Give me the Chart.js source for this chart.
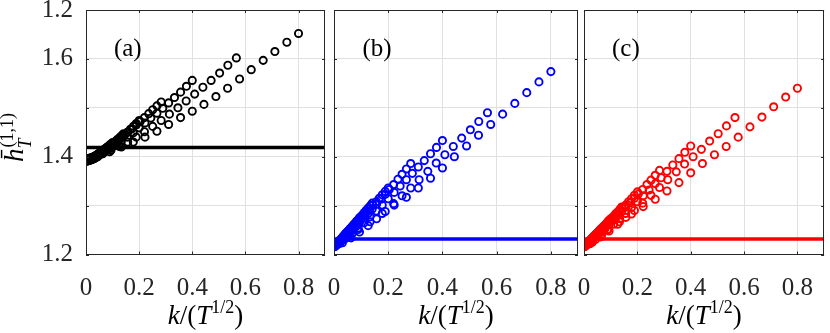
<!DOCTYPE html>
<html>
<head>
<meta charset="utf-8">
<script src="https://cdn.jsdelivr.net/npm/chart.js@4.4.0/dist/chart.umd.min.js"></script>
<style>
  body { margin: 0; background: #fff; width: 830px; height: 333px; position: relative; overflow: hidden; }
  canvas { position: absolute; top: 0; }
</style>
</head>
<body>
<canvas id="panelA" style="left:0px" width="331" height="333"></canvas>
<canvas id="panelB" style="left:316px" width="268" height="333"></canvas>
<canvas id="panelC" style="left:566px" width="264" height="333"></canvas>
<script>
// k / T^(1/2) for each T (same in all three panels)
const x1 = [0.044,0.089,0.133,0.178,0.222,0.267,0.311,0.356,0.400,0.444,0.489,0.533,0.578,0.622,0.667,0.711,0.756,0.800];
const x2 = [0.031,0.063,0.094,0.126,0.157,0.189,0.220,0.251,0.283,0.314,0.346,0.377,0.409,0.440,0.471,0.503,0.534,0.566];
const x3 = [0.022,0.044,0.067,0.089,0.111,0.133,0.156,0.178,0.200,0.222,0.244,0.267,0.289,0.311,0.333,0.356,0.378,0.400];
const x4 = [0.016,0.031,0.047,0.063,0.079,0.094,0.110,0.126,0.141,0.157,0.173,0.189,0.204,0.220,0.236,0.251,0.267,0.283];
const x5 = [0.011,0.022,0.033,0.044,0.056,0.067,0.078,0.089,0.100,0.111,0.122,0.133,0.144,0.156,0.167,0.178,0.189,0.200];
const x6 = [0.008,0.016,0.024,0.031,0.039,0.047,0.055,0.063,0.071,0.079,0.086,0.094,0.102,0.110,0.118,0.126,0.134,0.141];
const x7 = [0.006,0.011,0.017,0.022,0.028,0.033,0.039,0.044,0.050,0.056,0.061,0.067,0.072,0.078,0.083,0.089,0.094,0.100];
const x8 = [0.004,0.008,0.012,0.016,0.020,0.024,0.027,0.031,0.035,0.039,0.043,0.047,0.051,0.055,0.059,0.063,0.067,0.071];
const x9 = [0.003,0.006,0.008,0.011,0.014,0.017,0.019,0.022,0.025,0.028,0.031,0.033,0.036,0.039,0.042,0.044,0.047,0.050];
const x10 = [0.002,0.004,0.006,0.008,0.010,0.012,0.014,0.016,0.018,0.020,0.022,0.024,0.026,0.027,0.029,0.031,0.033,0.035];

// panel (a)
const a1 = [1.400,1.410,1.420,1.430,1.440,1.452,1.466,1.480,1.493,1.507,1.523,1.540,1.559,1.578,1.597,1.615,1.634,1.652];
const a2 = [1.400,1.406,1.413,1.421,1.430,1.440,1.451,1.462,1.474,1.487,1.500,1.514,1.528,1.542,1.556,1.571,1.587,1.602];
const a3 = [1.398,1.403,1.409,1.416,1.423,1.431,1.440,1.449,1.459,1.469,1.479,1.489,1.499,1.510,1.521,1.532,1.544,1.556];
const a4 = [1.397,1.401,1.406,1.411,1.417,1.423,1.429,1.436,1.443,1.450,1.457,1.465,1.472,1.480,1.488,1.496,1.504,1.512];
const a5 = [1.395,1.397,1.399,1.402,1.405,1.409,1.413,1.418,1.423,1.428,1.433,1.439,1.444,1.450,1.456,1.462,1.468,1.474];
const a6 = [1.395,1.396,1.398,1.400,1.402,1.404,1.407,1.410,1.413,1.416,1.420,1.423,1.427,1.431,1.435,1.439,1.443,1.447];
const a7 = [1.395,1.396,1.397,1.398,1.399,1.401,1.403,1.405,1.407,1.409,1.411,1.414,1.416,1.419,1.421,1.424,1.426,1.429];
const a8 = [1.395,1.395,1.396,1.396,1.397,1.398,1.399,1.400,1.401,1.403,1.404,1.405,1.407,1.408,1.410,1.412,1.414,1.416];
const a9 = [1.394,1.394,1.395,1.395,1.395,1.396,1.396,1.397,1.398,1.398,1.399,1.400,1.401,1.402,1.403,1.404,1.405,1.407];
const a10 = [1.391,1.391,1.392,1.392,1.392,1.393,1.393,1.393,1.394,1.394,1.394,1.395,1.395,1.396,1.396,1.397,1.397,1.398];
const lineA = 1.419;

// panel (b)
const b1 = [1.236,1.251,1.267,1.284,1.301,1.317,1.336,1.356,1.377,1.400,1.422,1.444,1.466,1.487,1.509,1.531,1.553,1.574];
const b2 = [1.224,1.234,1.246,1.259,1.273,1.288,1.304,1.320,1.336,1.353,1.370,1.387,1.404,1.421,1.438,1.455,1.472,1.490];
const b3 = [1.223,1.233,1.243,1.254,1.265,1.277,1.289,1.301,1.314,1.327,1.340,1.353,1.366,1.379,1.392,1.406,1.419,1.433];
const b4 = [1.222,1.230,1.238,1.247,1.256,1.265,1.274,1.284,1.293,1.303,1.313,1.323,1.333,1.343,1.354,1.364,1.375,1.386];
const b5 = [1.221,1.227,1.233,1.239,1.246,1.252,1.259,1.266,1.273,1.280,1.287,1.294,1.301,1.308,1.315,1.322,1.329,1.336];
const b6 = [1.220,1.225,1.229,1.234,1.239,1.244,1.249,1.254,1.259,1.264,1.269,1.274,1.279,1.285,1.290,1.295,1.300,1.305];
const b7 = [1.219,1.222,1.226,1.229,1.233,1.236,1.240,1.243,1.247,1.250,1.254,1.257,1.261,1.264,1.268,1.271,1.275,1.278];
const b8 = [1.218,1.220,1.223,1.225,1.228,1.230,1.232,1.235,1.237,1.240,1.242,1.245,1.247,1.249,1.252,1.254,1.257,1.259];
const b9 = [1.218,1.219,1.221,1.223,1.224,1.226,1.228,1.229,1.231,1.233,1.234,1.236,1.238,1.239,1.241,1.243,1.244,1.246];
const b10 = [1.216,1.217,1.218,1.219,1.220,1.221,1.222,1.223,1.224,1.225,1.226,1.227,1.228,1.229,1.230,1.231,1.232,1.234];
const lineB = 1.2316;

// panel (c)
const c1 = [1.236,1.251,1.267,1.283,1.298,1.313,1.330,1.347,1.367,1.386,1.404,1.421,1.440,1.461,1.481,1.502,1.522,1.540];
const c2 = [1.225,1.236,1.248,1.262,1.276,1.290,1.305,1.321,1.337,1.353,1.369,1.385,1.400,1.415,1.432,1.447,1.463,1.480];
const c3 = [1.222,1.231,1.241,1.251,1.262,1.273,1.284,1.296,1.308,1.320,1.332,1.345,1.357,1.370,1.383,1.396,1.409,1.422];
const c4 = [1.222,1.229,1.237,1.245,1.253,1.261,1.270,1.279,1.288,1.297,1.306,1.315,1.324,1.333,1.343,1.352,1.362,1.372];
const c5 = [1.221,1.226,1.232,1.238,1.244,1.250,1.256,1.263,1.269,1.275,1.282,1.288,1.295,1.301,1.308,1.314,1.321,1.328];
const c6 = [1.220,1.224,1.228,1.233,1.237,1.242,1.246,1.251,1.255,1.260,1.264,1.269,1.273,1.278,1.283,1.287,1.292,1.297];
const c7 = [1.219,1.222,1.225,1.228,1.232,1.235,1.238,1.241,1.244,1.248,1.251,1.254,1.257,1.260,1.263,1.267,1.270,1.273];
const c8 = [1.218,1.220,1.222,1.225,1.227,1.229,1.231,1.234,1.236,1.238,1.240,1.243,1.245,1.247,1.249,1.252,1.254,1.256];
const c9 = [1.218,1.219,1.221,1.222,1.224,1.225,1.227,1.228,1.230,1.232,1.233,1.235,1.236,1.238,1.239,1.241,1.242,1.244];
const c10 = [1.216,1.217,1.218,1.219,1.220,1.221,1.222,1.223,1.224,1.225,1.226,1.227,1.228,1.229,1.230,1.231,1.232,1.233];
const lineC = 1.2316;

const xTickLabels = ['0', '0.2', '0.4', '0.6', '0.8'];
const yTickLabels = ['1.2', '', '1.4', '', '1.6', '1.2'];
const panelLetters = ['(a)', '(b)', '(c)'];

const xFams = [x1, x2, x3, x4, x5, x6, x7, x8, x9, x10];
const FONT = "'Liberation Serif', 'Times New Roman', serif";

function drawParts(ctx, parts, cx, base) {
    // parts: [text, font, dy]
    let w = 0;
    parts.forEach(p => { ctx.font = p[1]; w += ctx.measureText(p[0]).width; });
    let px = cx - w / 2;
    parts.forEach(p => {
        ctx.font = p[1];
        ctx.fillText(p[0], px, base + (p[2] || 0));
        px += ctx.measureText(p[0]).width;
    });
}

const framePlugin = {
    id: 'frame',
    afterDraw(chart, args, opts) {
        const ctx = chart.ctx, a = chart.chartArea;
        const xs = chart.scales.x, ys = chart.scales.y;
        ctx.save();
        ctx.strokeStyle = '#262626';
        ctx.lineWidth = 1;
        ctx.strokeRect(Math.round(a.left) + 0.5, Math.round(a.top) + 0.5,
                       Math.round(a.right - a.left) - 1, Math.round(a.bottom - a.top) - 1);
        ctx.beginPath();
        ys.ticks.forEach(t => {
            const py = Math.round(ys.getPixelForValue(t.value)) + 0.5;
            ctx.moveTo(a.left, py); ctx.lineTo(a.left + 3, py);
            ctx.moveTo(a.right, py); ctx.lineTo(a.right - 3, py);
        });
        xs.ticks.forEach(t => {
            const px = Math.round(xs.getPixelForValue(t.value)) + 0.5;
            ctx.moveTo(px, a.bottom); ctx.lineTo(px, a.bottom - 3);
            ctx.moveTo(px, a.top); ctx.lineTo(px, a.top + 3);
        });
        ctx.stroke();

        ctx.fillStyle = '#000';
        ctx.textAlign = 'left';
        ctx.textBaseline = 'middle';
        ctx.font = '25px ' + FONT;
        ctx.fillText(opts.letter, xs.getPixelForValue(0.105), ys.getPixelForValue(1.62));

        ctx.textBaseline = 'alphabetic';
        drawParts(ctx, [
            ['k', 'italic 27px ' + FONT],
            ['/(', '27px ' + FONT],
            ['T', 'italic 27px ' + FONT],
            ['1/2', '18px ' + FONT, -11],
            [')', '27px ' + FONT]
        ], (a.left + a.right) / 2, 324);

        if (opts.yTitle) {
            ctx.save();
            ctx.translate(23, 162);
            ctx.rotate(-Math.PI / 2);
            ctx.font = 'italic 27px ' + FONT;
            ctx.fillText('h\u0304', 0, 0);
            const w = ctx.measureText('h\u0304').width;
            ctx.font = '18px ' + FONT;
            ctx.fillText('(1,1)', w + 1, -10);
            ctx.font = 'italic 18px ' + FONT;
            ctx.fillText('T', w, 8);
            ctx.restore();
        }
        ctx.restore();
    }
};

function makeDatasets(ys, color, lineY) {
    const ds = [{
        type: 'line',
        data: [{ x: 0, y: lineY }, { x: 0.9, y: lineY }],
        borderColor: color,
        borderWidth: 3.5,
        pointRadius: 0,
        fill: false
    }];
    ys.forEach((arr, i) => {
        ds.push({
            data: arr.map((v, j) => ({ x: xFams[i][j], y: v })),
            showLine: false,
            pointStyle: 'circle',
            pointRadius: 3.6,
            pointBorderWidth: 1.9,
            pointBorderColor: color,
            pointBackgroundColor: 'rgba(0,0,0,0)'
        });
    });
    return ds;
}

function setPanel(id, ys, color, lineY, letter, yAxisWidth, padRight, showYLabels) {
    return new Chart(document.getElementById(id), {
        type: 'scatter',
        data: { datasets: makeDatasets(ys, color, lineY) },
        options: {
            responsive: false,
            animation: false,
            events: [],
            layout: { padding: { top: 10, right: padRight, bottom: 0, left: 0 } },
            plugins: {
                legend: { display: false },
                tooltip: { enabled: false },
                frame: { letter: letter, yTitle: showYLabels }
            },
            scales: {
                x: {
                    type: 'linear', min: 0, max: 0.9,
                    grid: { color: '#e0e0e0', drawTicks: false },
                    border: { display: false },
                    ticks: {
                        stepSize: 0.2, includeBounds: false, padding: 19,
                        color: '#262626', font: { family: FONT, size: 25 },
                        maxRotation: 0,
                        callback: (v, i) => xTickLabels[i]
                    },
                    afterFit: s => { s.height = 78.5; s.paddingLeft = 0; s.paddingRight = 0; }
                },
                y: {
                    type: 'linear', min: 1.2, max: 1.7,
                    grid: { color: '#e0e0e0', drawTicks: false },
                    border: { display: false },
                    ticks: {
                        display: showYLabels,
                        stepSize: 0.1, padding: 13,
                        color: '#262626', font: { family: FONT, size: 25 },
                        callback: (v, i) => yTickLabels[i]
                    },
                    afterFit: s => { s.width = yAxisWidth; s.paddingTop = 0; s.paddingBottom = 0; }
                }
            }
        },
        plugins: [framePlugin]
    });
}

setPanel('panelA', [a1, a2, a3, a4, a5, a6, a7, a8, a9, a10], '#000000', lineA, panelLetters[0], 86, 2, true);
setPanel('panelB', [b1, b2, b3, b4, b5, b6, b7, b8, b9, b10], '#0000ff', lineB, panelLetters[1], 18, 6, false);
setPanel('panelC', [c1, c2, c3, c4, c5, c6, c7, c8, c9, c10], '#ff0000', lineC, panelLetters[2], 18, 2, false);
</script>
</body>
</html>
